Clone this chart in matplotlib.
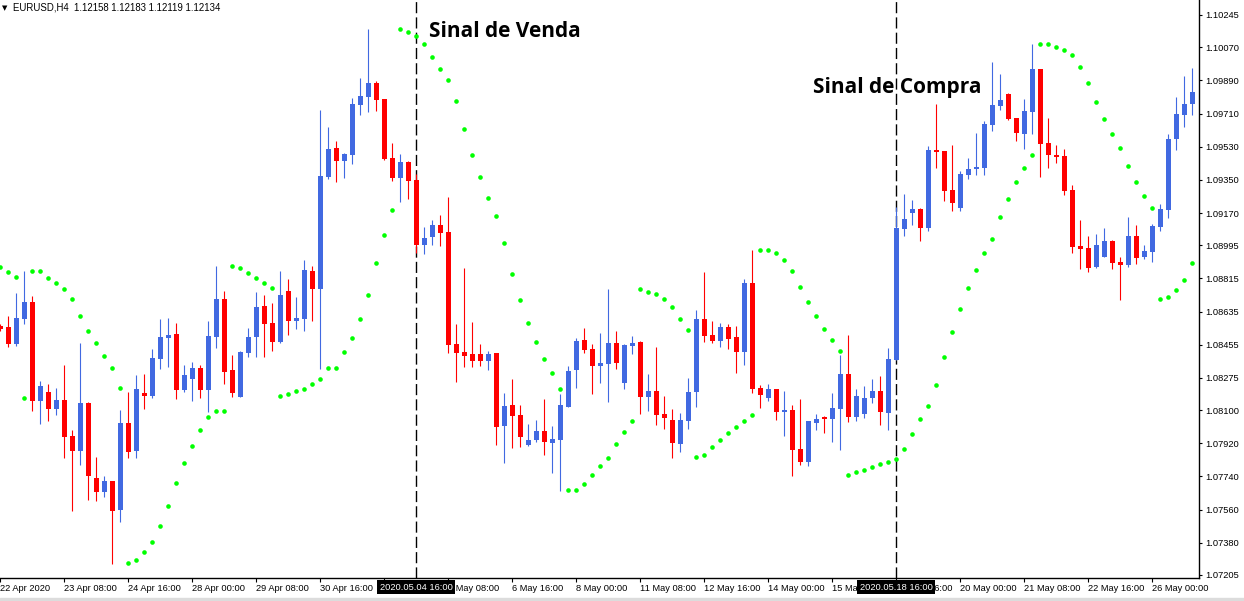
import numpy as np
import matplotlib.pyplot as plt
from matplotlib.transforms import blended_transform_factory

# EURUSD H4 candles (index 0 = first bar on the left)
opens = [
    1.08557, 1.08551, 1.08459, 1.08595, 1.08687, 1.08150, 1.08198, 1.08106, 1.08155, 1.07960,
    1.07878, 1.08139, 1.07732, 1.07656, 1.07715, 1.07558, 1.08030, 1.07878, 1.08193, 1.08177,
    1.08378, 1.08492, 1.08513, 1.08209, 1.08269, 1.08329, 1.08209, 1.08497, 1.08703, 1.08318,
    1.08171, 1.08410, 1.08497, 1.08665, 1.08573, 1.08470, 1.08747, 1.08584, 1.08595, 1.08855,
    1.08758, 1.09366, 1.09523, 1.09452, 1.09485, 1.09756, 1.09800, 1.09876, 1.09789, 1.09469,
    1.09360, 1.09447, 1.09349, 1.08996, 1.09040, 1.09105, 1.09067, 1.08459, 1.08416, 1.08405,
    1.08405, 1.08367, 1.08410, 1.08014, 1.08128, 1.08074, 1.07911, 1.07938, 1.07987, 1.07922,
    1.07938, 1.08117, 1.08318, 1.08481, 1.08432, 1.08340, 1.08350, 1.08464, 1.08247, 1.08448,
    1.08470, 1.08171, 1.08204, 1.08079, 1.08046, 1.07916, 1.08041, 1.08198, 1.08595, 1.08508,
    1.08475, 1.08551, 1.08497, 1.08416, 1.08790, 1.08220, 1.08166, 1.08215, 1.08090, 1.08101,
    1.07889, 1.07818, 1.08030, 1.08063, 1.08052, 1.08106, 1.08296, 1.08063, 1.08079, 1.08166,
    1.08204, 1.08084, 1.08372, 1.09083, 1.09170, 1.09192, 1.09089, 1.09512, 1.09507, 1.09295,
    1.09197, 1.09376, 1.09409, 1.09414, 1.09648, 1.09751, 1.09816, 1.09686, 1.09599, 1.09718,
    1.09952, 1.09550, 1.09485, 1.09480, 1.09295, 1.08991, 1.08980, 1.08877, 1.08931, 1.09018,
    1.08904, 1.08888, 1.09045, 1.08931, 1.08958, 1.09094, 1.09186, 1.09572, 1.09702, 1.09762,
]
highs = [
    1.08568, 1.08611, 1.08736, 1.08855, 1.08720, 1.08258, 1.08242, 1.08220, 1.08345, 1.07992,
    1.08464, 1.08144, 1.07846, 1.07742, 1.07715, 1.08101, 1.08198, 1.08291, 1.08296, 1.08432,
    1.08595, 1.08600, 1.08573, 1.08345, 1.08361, 1.08345, 1.08584, 1.08882, 1.08747, 1.08399,
    1.08421, 1.08546, 1.08741, 1.08725, 1.08682, 1.08855, 1.08812, 1.08714, 1.08915, 1.08882,
    1.09729, 1.09637, 1.09561, 1.09496, 1.09794, 1.09903, 1.10169, 1.09887, 1.09789, 1.09550,
    1.09490, 1.09452, 1.09382, 1.09094, 1.09132, 1.09159, 1.09257, 1.08568, 1.08872, 1.08578,
    1.08459, 1.08421, 1.08410, 1.08193, 1.08269, 1.08128, 1.08025, 1.08046, 1.08160, 1.08014,
    1.08188, 1.08340, 1.08492, 1.08546, 1.08459, 1.08519, 1.08758, 1.08530, 1.08459, 1.08502,
    1.08475, 1.08296, 1.08443, 1.08177, 1.08106, 1.08084, 1.08274, 1.08644, 1.08850, 1.08584,
    1.08573, 1.08568, 1.08557, 1.08812, 1.08969, 1.08236, 1.08242, 1.08215, 1.08204, 1.08128,
    1.08160, 1.08041, 1.08079, 1.08068, 1.08193, 1.08399, 1.08508, 1.08215, 1.08231, 1.08269,
    1.08285, 1.08437, 1.09203, 1.09273, 1.09241, 1.09197, 1.09534, 1.09762, 1.09507, 1.09539,
    1.09398, 1.09469, 1.09604, 1.09670, 1.09990, 1.09925, 1.09822, 1.09686, 1.09789, 1.10088,
    1.09952, 1.09686, 1.09539, 1.09518, 1.09322, 1.09132, 1.09045, 1.09056, 1.09089, 1.09024,
    1.08931, 1.09148, 1.09105, 1.08996, 1.09110, 1.09219, 1.09599, 1.09800, 1.09914, 1.09957,
]
lows = [
    1.08530, 1.08443, 1.08448, 1.08568, 1.08095, 1.08025, 1.08041, 1.08074, 1.07840, 1.07552,
    1.07802, 1.07612, 1.07607, 1.07628, 1.07265, 1.07493, 1.07840, 1.07840, 1.08106, 1.08166,
    1.08323, 1.08334, 1.08160, 1.08198, 1.08150, 1.08166, 1.08090, 1.08437, 1.08242, 1.08171,
    1.08171, 1.08388, 1.08388, 1.08388, 1.08421, 1.08464, 1.08508, 1.08540, 1.08530, 1.08584,
    1.08323, 1.09355, 1.09338, 1.09360, 1.09436, 1.09702, 1.09718, 1.09724, 1.09458, 1.09344,
    1.09230, 1.09246, 1.08953, 1.08948, 1.08996, 1.08991, 1.08410, 1.08253, 1.08334, 1.08334,
    1.08340, 1.08318, 1.07911, 1.07813, 1.07894, 1.07900, 1.07905, 1.07927, 1.07856, 1.07759,
    1.07661, 1.08117, 1.08220, 1.08410, 1.08188, 1.08247, 1.08144, 1.08323, 1.08215, 1.08405,
    1.08079, 1.08095, 1.08019, 1.07998, 1.07840, 1.07873, 1.07998, 1.08117, 1.08470, 1.08464,
    1.08443, 1.08432, 1.08302, 1.08345, 1.08193, 1.08112, 1.08150, 1.08046, 1.07960, 1.07742,
    1.07802, 1.07797, 1.07992, 1.07976, 1.07927, 1.07884, 1.08036, 1.08041, 1.08057, 1.08139,
    1.08019, 1.07992, 1.08372, 1.09045, 1.09105, 1.09018, 1.09072, 1.09414, 1.09235, 1.09181,
    1.09181, 1.09355, 1.09376, 1.09376, 1.09615, 1.09729, 1.09675, 1.09561, 1.09518, 1.09599,
    1.09366, 1.09414, 1.09442, 1.09268, 1.08953, 1.08866, 1.08850, 1.08872, 1.08931, 1.08866,
    1.08698, 1.08877, 1.08893, 1.08920, 1.08904, 1.09072, 1.09143, 1.09512, 1.09637, 1.09702,
]
closes = [
    1.08540, 1.08459, 1.08600, 1.08687, 1.08150, 1.08231, 1.08106, 1.08155, 1.07954, 1.07878,
    1.08139, 1.07742, 1.07656, 1.07715, 1.07552, 1.08030, 1.07873, 1.08215, 1.08177, 1.08383,
    1.08497, 1.08508, 1.08209, 1.08291, 1.08329, 1.08209, 1.08502, 1.08703, 1.08307, 1.08193,
    1.08416, 1.08497, 1.08660, 1.08568, 1.08470, 1.08725, 1.08584, 1.08600, 1.08861, 1.08758,
    1.09371, 1.09518, 1.09452, 1.09490, 1.09762, 1.09805, 1.09876, 1.09784, 1.09463, 1.09360,
    1.09447, 1.09344, 1.08996, 1.09034, 1.09105, 1.09062, 1.08454, 1.08410, 1.08394, 1.08367,
    1.08367, 1.08405, 1.08008, 1.08122, 1.08068, 1.07954, 1.07938, 1.07987, 1.07927, 1.07943,
    1.08128, 1.08312, 1.08475, 1.08426, 1.08340, 1.08356, 1.08464, 1.08356, 1.08454, 1.08464,
    1.08171, 1.08204, 1.08074, 1.08057, 1.07922, 1.08046, 1.08198, 1.08595, 1.08502, 1.08475,
    1.08551, 1.08486, 1.08416, 1.08790, 1.08215, 1.08182, 1.08215, 1.08090, 1.08101, 1.07884,
    1.07818, 1.08041, 1.08052, 1.08052, 1.08112, 1.08296, 1.08063, 1.08177, 1.08166, 1.08204,
    1.08090, 1.08378, 1.09089, 1.09138, 1.09192, 1.09089, 1.09512, 1.09501, 1.09290, 1.09224,
    1.09382, 1.09409, 1.09420, 1.09653, 1.09756, 1.09784, 1.09680, 1.09604, 1.09724, 1.09952,
    1.09545, 1.09485, 1.09474, 1.09290, 1.08986, 1.08975, 1.08872, 1.08996, 1.09018, 1.08899,
    1.08888, 1.09045, 1.08926, 1.08964, 1.09100, 1.09192, 1.09572, 1.09708, 1.09762, 1.09827,
]
# Parabolic SAR dots
sar = [
    1.08877, 1.08850, 1.08823, 1.08166, 1.08855, 1.08855, 1.08817, 1.08790, 1.08758, 1.08703,
    1.08611, 1.08530, 1.08464, 1.08394, 1.08329, 1.08220, 1.07270, 1.07286, 1.07330, 1.07384,
    1.07471, 1.07580, 1.07704, 1.07813, 1.07905, 1.07992, 1.08063, 1.08095, 1.08095, 1.08882,
    1.08872, 1.08844, 1.08817, 1.08790, 1.08763, 1.08177, 1.08188, 1.08204, 1.08215, 1.08242,
    1.08269, 1.08329, 1.08329, 1.08416, 1.08492, 1.08595, 1.08725, 1.08899, 1.09051, 1.09186,
    1.10169, 1.10153, 1.10131, 1.10087, 1.10017, 1.09952, 1.09892, 1.09778, 1.09626, 1.09485,
    1.09366, 1.09252, 1.09154, 1.09007, 1.08839, 1.08698, 1.08573, 1.08470, 1.08378, 1.08302,
    1.08215, 1.07666, 1.07666, 1.07699, 1.07748, 1.07797, 1.07840, 1.07916, 1.07981, 1.08041,
    1.08758, 1.08741, 1.08730, 1.08703, 1.08660, 1.08595, 1.08535, 1.07846, 1.07856, 1.07900,
    1.07938, 1.07976, 1.08008, 1.08041, 1.08074, 1.08969, 1.08969, 1.08953, 1.08915, 1.08855,
    1.08768, 1.08687, 1.08611, 1.08540, 1.08481, 1.08421, 1.07748, 1.07764, 1.07775, 1.07791,
    1.07808, 1.07818, 1.07835, 1.07889, 1.07970, 1.08052, 1.08122, 1.08236, 1.08388, 1.08524,
    1.08649, 1.08763, 1.08861, 1.08953, 1.09029, 1.09148, 1.09246, 1.09338, 1.09414, 1.09485,
    1.10087, 1.10087, 1.10071, 1.10055, 1.10028, 1.09963, 1.09876, 1.09773, 1.09680, 1.09599,
    1.09523, 1.09425, 1.09338, 1.09262, 1.09197, 1.08703, 1.08714, 1.08752, 1.08806, 1.08899,
]

price_ticks = [1.10245, 1.10070, 1.09890, 1.09710, 1.09530, 1.09350, 1.09170, 1.08995, 1.08815,
               1.08635, 1.08455, 1.08275, 1.08100, 1.07920, 1.07740, 1.07560, 1.07380, 1.07205]
date_labels = ["22 Apr 2020", "23 Apr 08:00", "24 Apr 16:00", "28 Apr 00:00", "29 Apr 08:00",
               "30 Apr 16:00", "4 May 00:00", "5 May 08:00", "6 May 16:00", "8 May 00:00",
               "11 May 08:00", "12 May 16:00", "14 May 00:00", "15 May 08:00", "18 May 16:00",
               "20 May 00:00", "21 May 08:00", "22 May 16:00", "26 May 00:00"]
label_step = 8
signal_bars = [52, 112]
signal_stamps = ["2020.05.04 16:00", "2020.05.18 16:00"]
header = "EURUSD,H4  1.12158 1.12183 1.12119 1.12134"

BLUE = "#4169e1"
RED = "#ff0000"
DOT = "#00ff00"
FONT = "Liberation Sans"

o = np.array(opens); h = np.array(highs); l = np.array(lows); c = np.array(closes)
x = np.arange(len(o))
up = c >= o
cols = np.where(up, BLUE, RED)

fig = plt.figure(figsize=(12.44, 6.01), dpi=100)
ax = fig.add_axes([0, 23 / 601, 1199 / 1244, 578 / 601])

for xs in signal_bars:
    ax.axvline(xs, color="black", lw=1.0, dashes=(8, 3), zorder=1)

ax.vlines(x, l, h, colors=cols, lw=0.8, zorder=2)
body_lo = np.minimum(o, c)
body_h = np.maximum(np.abs(c - o), 0.00005)
ax.bar(x, body_h, bottom=body_lo, width=0.625, color=cols, linewidth=0, zorder=3)
ax.scatter(x, sar, s=11, color=DOT, marker="o", linewidths=0, zorder=4)

ax.set_xlim(0, 149.875)
ax.set_ylim(1.071887, 1.103264)

for side in ["left", "top"]:
    ax.spines[side].set_visible(False)
ax.spines["right"].set_linewidth(1.0)
ax.spines["bottom"].set_linewidth(1.0)

ax.yaxis.tick_right()
ax.set_yticks(price_ticks)
ax.set_yticklabels([f"{p:.5f}" for p in price_ticks], fontsize=6.7, family=FONT)
ax.tick_params(axis="y", length=2.5, width=0.8, pad=2)

ax.set_xticks(np.arange(len(date_labels)) * label_step)
ax.set_xticklabels(date_labels, fontsize=6.7, family=FONT, ha="left")
ax.tick_params(axis="x", length=3, width=0.8, pad=1.5)

trans = blended_transform_factory(ax.transData, ax.transAxes)
for xs, stamp in zip(signal_bars, signal_stamps):
    ax.text(xs, -0.016, stamp, transform=trans, ha="center", va="center",
            fontsize=6.7, family=FONT, color="white", zorder=10, clip_on=False,
            bbox=dict(boxstyle="square,pad=0.25", fc="black", ec="none"))

ax.text(53.6, 1.10153, "Sinal de Venda", fontsize=15, fontweight="bold",
        family="Open Sans", va="center", ha="left", zorder=6)
ax.text(101.6, 1.09849, "Sinal de Compra", fontsize=15, fontweight="bold",
        family="Open Sans", va="center", ha="left", zorder=6)

fig.text(2 / 1244, 1 - 8 / 601, "\u25BC", fontsize=5, va="center", ha="left")
fig.text(13 / 1244, 1 - 8 / 601, header, fontsize=6.9, family=FONT, va="center", ha="left")

fig.patches.append(plt.Rectangle((0, 0), 1, 3 / 601, transform=fig.transFigure,
                                 color="#dcdcdc", zorder=0))

fig.savefig("out.png", dpi=100)
